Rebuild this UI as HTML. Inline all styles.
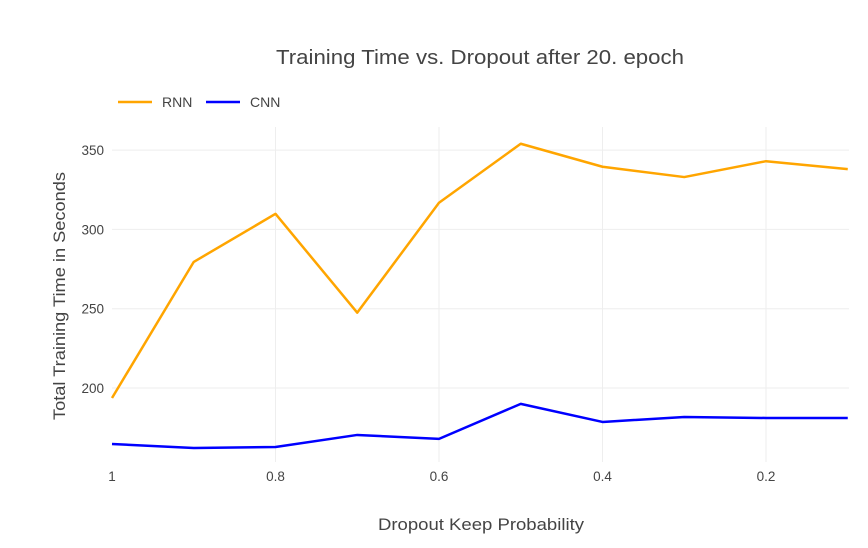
<!DOCTYPE html>
<html><head><meta charset="utf-8"><style>
body{margin:0;background:#fff;font-family:"Liberation Sans",sans-serif}
svg text{font-family:"Liberation Sans",sans-serif;fill:#444}
</style></head><body>
<svg id="chart" width="868" height="543" xmlns="http://www.w3.org/2000/svg">
<text x="480" y="64" text-anchor="middle" font-size="20" textLength="408" lengthAdjust="spacingAndGlyphs">Training Time vs. Dropout after 20. epoch</text>
<g>
<g><line x1="118" y1="102" x2="152" y2="102" stroke="#FFA500" stroke-width="2.5"/><text x="162" y="107" font-size="14">RNN</text></g>
<g><line x1="206" y1="102" x2="240" y2="102" stroke="#0000FF" stroke-width="2.5"/><text x="250" y="107" font-size="14">CNN</text></g>
</g>
<g id="grid"></g>
<g id="xticks"></g>
<g id="yticks"></g>
<g id="series"></g>
<text x="481" y="530" text-anchor="middle" font-size="17" textLength="206" lengthAdjust="spacingAndGlyphs">Dropout Keep Probability</text>
<text transform="translate(65,296) rotate(-90)" text-anchor="middle" font-size="17" textLength="248" lengthAdjust="spacingAndGlyphs">Total Training Time in Seconds</text>
</svg>
<script>
const xs=[1,0.9,0.8,0.7,0.6,0.5,0.4,0.3,0.2,0.1];
const rnn=[193.7,279.5,309.8,247.5,316.8,354,339.5,333,343,338];
const cnn=[164.7,162.2,162.8,170.4,167.9,190,178.6,181.7,181.1,181.1];
const xTicks=[1,0.8,0.6,0.4,0.2];
const xTickLabels=["1","0.8","0.6","0.4","0.2"];
const yTicks=[200,250,300,350];
const NS="http://www.w3.org/2000/svg";
function X(v){return 112+(1-v)*817.5;}
function Y(v){return 388-(v-200)*79.3/50;}
function mk(t,a,p){const e=document.createElementNS(NS,t);for(const k in a)e.setAttribute(k,a[k]);p.appendChild(e);return e;}
const grid=document.getElementById('grid'),xg=document.getElementById('xticks'),yg=document.getElementById('yticks'),sg=document.getElementById('series');
xTicks.forEach((v,i)=>{
 if(i>0){const l=mk('line',{x1:X(v),x2:X(v),y1:127,y2:462,stroke:'#eee'},grid);
 
 }
 const t=mk('text',{x:X(v),y:481,'text-anchor':'middle','font-size':13.5},xg);t.textContent=xTickLabels[i];
 
 
});
yTicks.forEach(v=>{
 const l=mk('line',{x1:112,x2:849,y1:Y(v),y2:Y(v),stroke:'#eee'},grid);
 
 
 const t=mk('text',{x:104,y:Y(v)+5,'text-anchor':'end','font-size':13.5},yg);t.textContent=v;
 
 
});
[[rnn,'#FFA500','rnn-line'],[cnn,'#0000FF','cnn-line']].forEach(([d,c,n])=>{
 const p=mk('polyline',{points:d.map((v,i)=>X(xs[i])+','+Y(v)).join(' '),fill:'none',stroke:c,'stroke-width':2.5,'stroke-linejoin':'round'},sg);
 
 
});
</script>
</body></html>
